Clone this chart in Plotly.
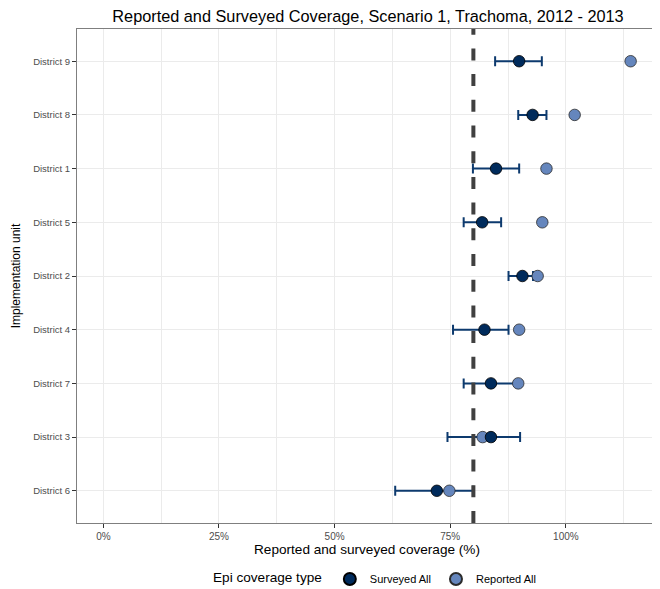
import plotly.graph_objects as go

# ---- data ----
districts = ["District 9", "District 8", "District 1", "District 5", "District 2",
             "District 4", "District 7", "District 3", "District 6"]
surveyed = [89.9, 92.8, 84.9, 81.9, 90.6, 82.4, 83.8, 83.8, 72.1]
surveyed_low = [84.7, 89.7, 79.9, 77.9, 87.6, 75.6, 77.9, 74.4, 63.1]
surveyed_high = [94.8, 95.8, 89.9, 86.0, 92.9, 87.6, 89.7, 90.1, 79.9]
reported = [114.0, 101.9, 95.8, 94.9, 93.9, 89.9, 89.7, 82.0, 74.8]
target = 80
x_ticks = [0, 25, 50, 75, 100]
x_tick_labels = ["0%", "25%", "50%", "75%", "100%"]

NAVY = "#002b5c"
STEEL = "#6586bd"
FONT = "Arial, Liberation Sans, sans-serif"

# the page body keeps its default 8px margin, so the figure is 8px smaller
W, H = 652, 581

err_plus = [h - s for h, s in zip(surveyed_high, surveyed)]
err_minus = [s - l for s, l in zip(surveyed, surveyed_low)]

fig = go.Figure()

# error bars first so the points sit on top of them
fig.add_trace(go.Scatter(
    x=surveyed, y=districts, mode="markers",
    marker=dict(size=1, opacity=0),
    error_x=dict(type="data", array=err_plus, arrayminus=err_minus,
                 color="#0d3a6e", thickness=2, width=5),
    showlegend=False, hoverinfo="skip"))

fig.add_trace(go.Scatter(
    x=reported, y=districts, mode="markers", name="Reported All",
    marker=dict(size=11.5, color=STEEL, line=dict(color="#2b2b2b", width=0.8)),
    legendrank=2))

fig.add_trace(go.Scatter(
    x=surveyed, y=districts, mode="markers", name="Surveyed All",
    marker=dict(size=11.5, color=NAVY, line=dict(color="#000000", width=0.8)),
    legendrank=1))

fig.add_vline(x=target, line=dict(color="#404040", width=4, dash="12px,13.7px"),
              layer="above")

fig.update_layout(
    width=W, height=H,
    template="plotly_white",
    paper_bgcolor="white", plot_bgcolor="white",
    font=dict(family=FONT, color="#000000"),
    margin=dict(l=69, r=3, t=21, b=66),
    title=dict(text="Reported and Surveyed Coverage, Scenario 1, Trachoma, 2012 - 2013",
               x=360 / W, xanchor="center", y=1 - 8 / H, yanchor="middle",
               font=dict(size=16.3, color="#000000")),
    showlegend=True,
    legend=dict(orientation="h", xref="container", x=203 / W, xanchor="left",
                yref="container", y=1 - 571 / H, yanchor="middle",
                title=dict(text="Epi coverage type", font=dict(size=13.6)),
                font=dict(size=11, color="#000000"),
                itemsizing="constant"),
)

fig.update_xaxes(
    range=[-5.7, 119.7], tickvals=x_ticks, ticktext=x_tick_labels,
    tickfont=dict(size=10, color="#4d4d4d"),
    ticks="outside", ticklen=4, tickcolor="#333333",
    showgrid=True, gridcolor="#ebebeb", gridwidth=1,
    minor=dict(dtick=12.5, tick0=0, showgrid=True, gridcolor="#ebebeb", gridwidth=0.6),
    zeroline=False, automargin=False,
    showline=True, linecolor="#7f7f7f", linewidth=1, mirror=True,
    title=dict(text="Reported and surveyed coverage (%)", font=dict(size=13.6),
               standoff=1),
)

fig.update_yaxes(
    type="category", categoryorder="array", categoryarray=districts[::-1],
    range=[-0.6, 8.6],
    tickfont=dict(size=9.5, color="#4d4d4d"),
    ticks="outside", ticklen=4, tickcolor="#333333",
    showgrid=True, gridcolor="#ebebeb", gridwidth=1,
    zeroline=False, automargin=False,
    showline=True, linecolor="#7f7f7f", linewidth=1, mirror=True,
    title=dict(text="Implementation unit", font=dict(size=12), standoff=9),
)

fig.write_html("out.html")
